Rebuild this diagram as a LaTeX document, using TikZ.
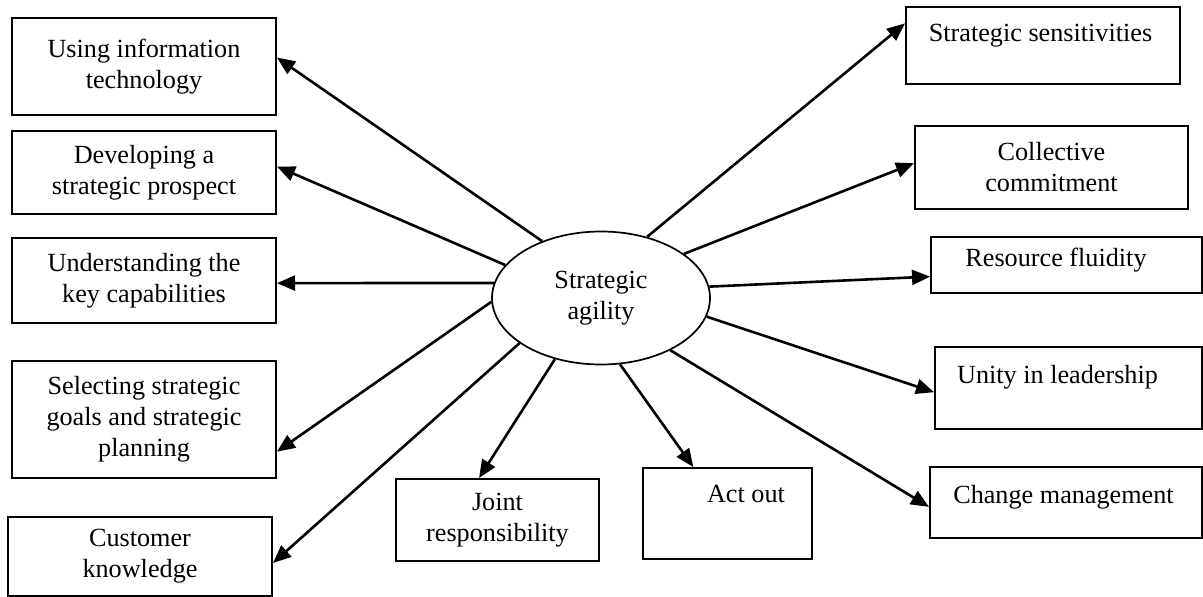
\documentclass[tikz,border=0pt]{standalone}
\usepackage{fontspec}
\setmainfont{Liberation Serif}
\usetikzlibrary{arrows.meta,calc,shapes.geometric}
\begin{document}
\begin{tikzpicture}[x=1pt,y=-1pt,
  box/.style={draw=black,line width=2pt,rectangle,inner sep=0pt,align=center,
    font=\fontsize{26.2}{31}\selectfont},
  txt/.style={inner sep=0pt,align=center,font=\fontsize{26.2}{31}\selectfont},
  hub/.style={draw=black,line width=1.7pt,ellipse,inner sep=0pt,align=center,
    minimum width=218pt,minimum height=133pt,font=\fontsize{26.2}{31}\selectfont},
  conn/.style={draw=black,line width=2.6pt,-{Triangle[length=18pt,width=15pt]}}]
\useasboundingbox (0,0) rectangle (1203,597);
\fill[white] (0,0) rectangle (1203,597);

% hub
\node[hub] (c) at (601,298) {Strategic\\agility};

% left column
\node[box,minimum width=264pt,minimum height=97pt] (u) at (144,66.5) {Using information\\technology};
\node[box,minimum width=264pt,minimum height=83pt] (d) at (144,172.5) {Developing a\\strategic prospect};
\node[box,minimum width=264pt,minimum height=85pt] (k) at (144,280.5) {Understanding the\\key capabilities};
\node[box,minimum width=264pt,minimum height=117pt] (s) at (144,419.5) {Selecting strategic\\goals and strategic\\planning};
\node[box,minimum width=264pt,minimum height=79pt] (cu) at (140,556.5) {Customer\\knowledge};

% bottom
\node[box,minimum width=203pt,minimum height=82pt] (j) at (497.5,520) {Joint\\responsibility};
\node[box,minimum width=169pt,minimum height=91pt] (a) at (727.5,513.5) {};
\node[txt] (at) at (746,494) {Act out};

% right column
\node[box,minimum width=274pt,minimum height=77pt] (ss) at (1043,45.5) {};
\node[txt] (sst) at (1040.5,36) {Strategic sensitivities};
\node[box,minimum width=273pt,minimum height=83pt] (co) at (1051.5,167.5) {Collective\\commitment};
\node[box,minimum width=271pt,minimum height=56pt] (r) at (1066.5,265) {};
\node[txt] (rt) at (1056,260) {Resource fluidity};
\node[box,minimum width=267pt,minimum height=82pt] (un) at (1068.5,388) {};
\node[txt] (unt) at (1057.5,377) {Unity in leadership};
\node[box,minimum width=272pt,minimum height=71pt] (ch) at (1066,502.5) {};
\node[txt] (cht) at (1063.5,497) {Change management};

% connectors
\draw[conn] (c.136.9) -- ($(u.north east)!0.41!(u.south east)$);
\draw[conn] (c.161.9) -- ($(d.north east)!0.43!(d.south east)$);
\draw[conn] (c.172.2) -- ($(k.north east)!0.53!(k.south east)$);
\draw[conn] (c.182.6) -- ($(s.north east)!0.77!(s.south east)$);
\draw[conn] (c.209.6) -- ($(cu.north east)!0.58!(cu.south east)$);
\draw[conn] (c.233) -- ($(j.north west)!0.41!(j.north east)$);
\draw[conn] (c.286.3) -- ($(a.north west)!0.30!(a.north east)$);
\draw[conn] (c.323.8) -- ($(ch.north west)!0.56!(ch.south west)$);
\draw[conn] (c.350.7) -- ($(un.north west)!0.55!(un.south west)$);
\draw[conn] (c.6.7) -- ($(r.north west)!0.70!(r.south west)$);
\draw[conn] (c.28.8) -- ($(co.north west)!0.45!(co.south west)$);
\draw[conn] (c.53.1) -- ($(ss.north west)!0.22!(ss.south west)$);
\end{tikzpicture}
\end{document}
